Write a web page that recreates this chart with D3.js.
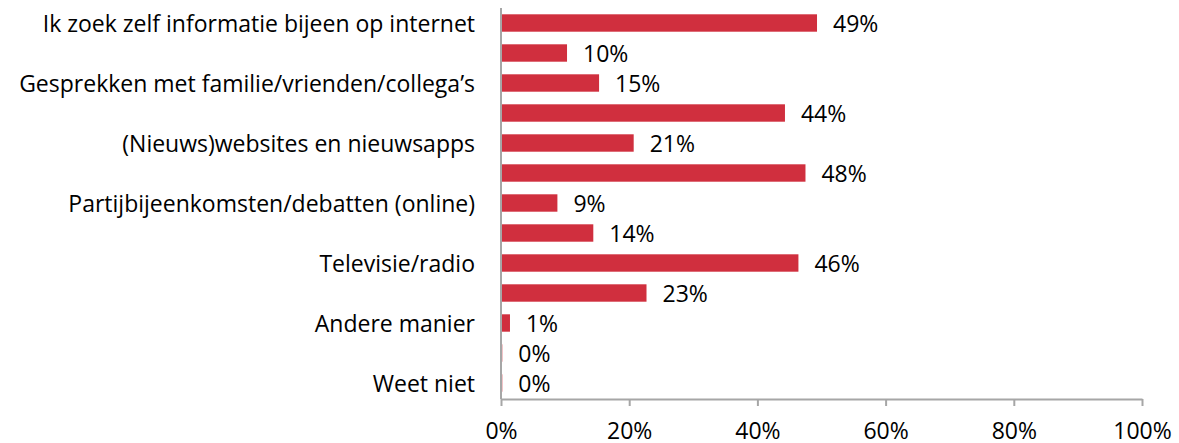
<!DOCTYPE html>
<html>
<head>
<meta charset="utf-8">
<script src="https://cdn.jsdelivr.net/npm/d3@7"></script>
<style>
  html, body { margin: 0; padding: 0; background: #ffffff; }
  svg { display: block; }
  text { font-family: "Open Sans", Lato, sans-serif; fill: #000; font-variant-ligatures: none; }
</style>
</head>
<body>
<svg id="chart" width="1179" height="443"></svg>
<script>
// ---- data ----
// 13 bars; the category axis only labels every other bar (as in the reference)
const barIds = [0, 1, 2, 3, 4, 5, 6, 7, 8, 9, 10, 11, 12];
const values = [49.3, 10.3, 15.3, 44.3, 20.7, 47.5, 8.8, 14.4, 46.4, 22.7, 1.4, 0.2, 0.2];
const valueLabels = ["49%", "10%", "15%", "44%", "21%", "48%", "9%", "14%", "46%", "23%", "1%", "0%", "0%"];
const labeledIds = [0, 2, 4, 6, 8, 10, 12];
const categoryLabels = [
  "Ik zoek zelf informatie bijeen op internet",
  "Gesprekken met familie/vrienden/collega\u2019s",
  "(Nieuws)websites en nieuwsapps",
  "Partijbijeenkomsten/debatten (online)",
  "Televisie/radio",
  "Andere manier",
  "Weet niet"
];
const xTicks = [0, 20, 40, 60, 80, 100];
const xTickLabels = ["0%", "20%", "40%", "60%", "80%", "100%"];

// ---- layout ----
(function () {
const svg = d3.select("#chart");
const mLeft = 501, mRight = 1142, mTop = 8, mBottom = 398;
const fontSize = 23;
const fontFamily = "'Open Sans', Lato, sans-serif";
const barColor = "#D02F3E";
const axisColor = "#A6A6A6";

const x = d3.scaleLinear().domain([0, 100]).range([mLeft, mRight]);
const y = d3.scaleBand().domain(barIds).range([mTop, mBottom])
  .paddingInner(0.42).paddingOuter(0.21);

// bars
svg.append("g").selectAll("rect").data(barIds).join("rect")
  .attr("x", x(0))
  .attr("y", d => y(d))
  .attr("width", d => Math.max(1, x(values[d]) - x(0)))
  .attr("height", y.bandwidth())
  .attr("fill", barColor);

// value labels
svg.append("g").selectAll("text").data(barIds).join("text")
  .attr("x", d => x(values[d]) + 16)
  .attr("y", d => y(d) + y.bandwidth() / 2 + 9)
  .attr("font-size", fontSize)
  .attr("font-family", fontFamily)
  .text(d => valueLabels[d]);

// bottom axis
const xAxis = d3.axisBottom(x)
  .tickValues(xTicks)
  .tickFormat((d, i) => xTickLabels[i])
  .tickSize(7)
  .tickSizeOuter(0);
const gx = svg.append("g").attr("transform", `translate(0,${mBottom + 1})`).call(xAxis);
gx.select(".domain").attr("stroke", axisColor).attr("stroke-width", 2);
gx.selectAll(".tick line").attr("stroke", axisColor).attr("stroke-width", 2);
gx.selectAll(".tick text")
  .attr("y", 40).attr("dy", null)
  .attr("font-size", fontSize)
  .attr("font-family", fontFamily)
  .attr("fill", "#000");

// left axis (category)
const yAxis = d3.axisLeft(y)
  .tickValues(labeledIds)
  .tickFormat(d => categoryLabels[labeledIds.indexOf(d)])
  .tickSize(0)
  .tickSizeOuter(0)
  .tickPadding(26);
const gy = svg.append("g").attr("transform", `translate(${mLeft},0)`).call(yAxis);
gy.select(".domain").attr("stroke", axisColor).attr("stroke-width", 2)
  .attr("d", `M0,${mTop}V${mBottom + 1}`);
gy.selectAll(".tick text")
  .attr("dy", null)
  .attr("y", 8.5)
  .attr("font-size", fontSize)
  .attr("font-family", fontFamily)
  .attr("fill", "#000");
})();
</script>
</body>
</html>
